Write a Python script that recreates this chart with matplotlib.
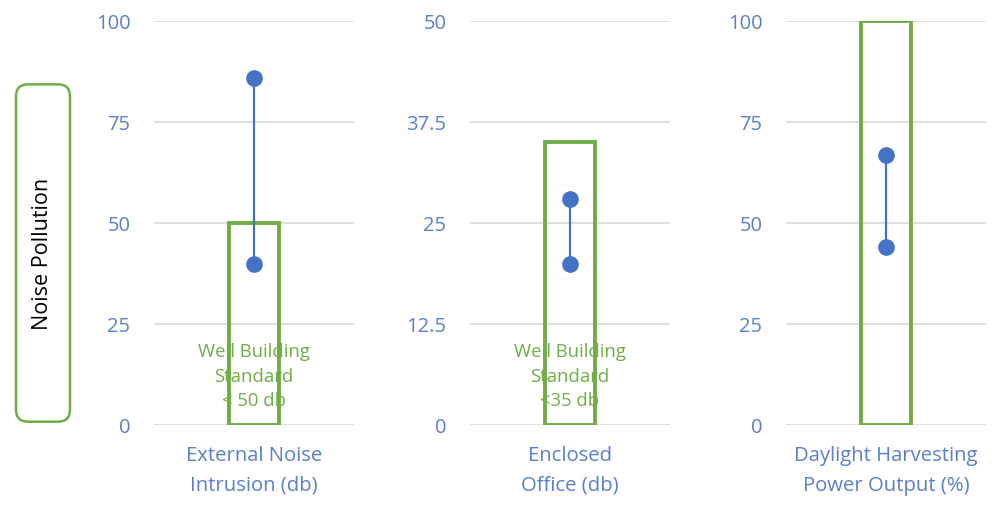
import matplotlib.pyplot as plt
from matplotlib.patches import FancyBboxPatch

# dumbbell data per panel
categories = ["External Noise\nIntrusion (db)", "Enclosed\nOffice (db)", "Daylight Harvesting\nPower Output (%)"]
low_vals = [40, 20, 44]
high_vals = [86, 28, 67]
standard_vals = [50, 35, 100]
y_max = [100, 50, 100]
tick_sets = [[0, 25, 50, 75, 100], [0, 12.5, 25, 37.5, 50], [0, 25, 50, 75, 100]]
tick_labels = [["0", "25", "50", "75", "100"],
               ["0", "12.5", "25", "37.5", "50"],
               ["0", "25", "50", "75", "100"]]
notes = ["Well Building\nStandard\n< 50 db", "Well Building\nStandard\n<35 db", None]

blue = "#4472C4"
green = "#70AD47"
tick_blue = "#5A7FCC"
grid_grey = "#D9D9D9"

plt.rcParams['font.family'] = ['Open Sans', 'DejaVu Sans']

fig = plt.figure(figsize=(10, 5.05), dpi=100)

lefts = [0.154, 0.470, 0.786]
for i in range(3):
    ax = fig.add_axes([lefts[i], 0.158, 0.2, 0.8])
    ax.set_xlim(-2, 2)
    ax.set_ylim(0, y_max[i])
    for t in tick_sets[i]:
        ax.axhline(t, color=grid_grey, lw=1.2, zorder=0)
    ax.bar([0], [standard_vals[i]], width=1, facecolor="none",
           edgecolor=green, lw=2.8, zorder=3)
    ax.plot([0, 0], [low_vals[i], high_vals[i]], color=blue, lw=1.6,
            marker="o", markersize=11, zorder=4, clip_on=False)
    if notes[i]:
        ax.text(0, y_max[i] * 0.12, notes[i], ha="center", va="center",
                color=green, fontsize=13.3, linespacing=1.45, zorder=2)
    ax.set_yticks(tick_sets[i])
    ax.set_yticklabels(tick_labels[i])
    ax.tick_params(axis="y", length=0, pad=17, labelsize=14.5, labelcolor=tick_blue)
    ax.set_xticks([])
    for s in ax.spines.values():
        s.set_visible(False)
    ax.text(0, -0.052, categories[i], transform=ax.get_xaxis_transform(),
            ha="center", va="top", color=tick_blue, fontsize=14.6, linespacing=1.62)

# rounded label box on the left
box = FancyBboxPatch((0.016, 0.165), 0.054, 0.668,
                     boxstyle="round,pad=0,rounding_size=0.012",
                     transform=fig.transFigure, facecolor="none",
                     edgecolor=green, lw=1.8, mutation_aspect=2)
fig.patches.append(box)
fig.text(0.043, 0.497, "Noise Pollution", rotation=90, ha="center", va="center",
         fontsize=15.5, color="black")

fig.savefig("out.png", dpi=100)
